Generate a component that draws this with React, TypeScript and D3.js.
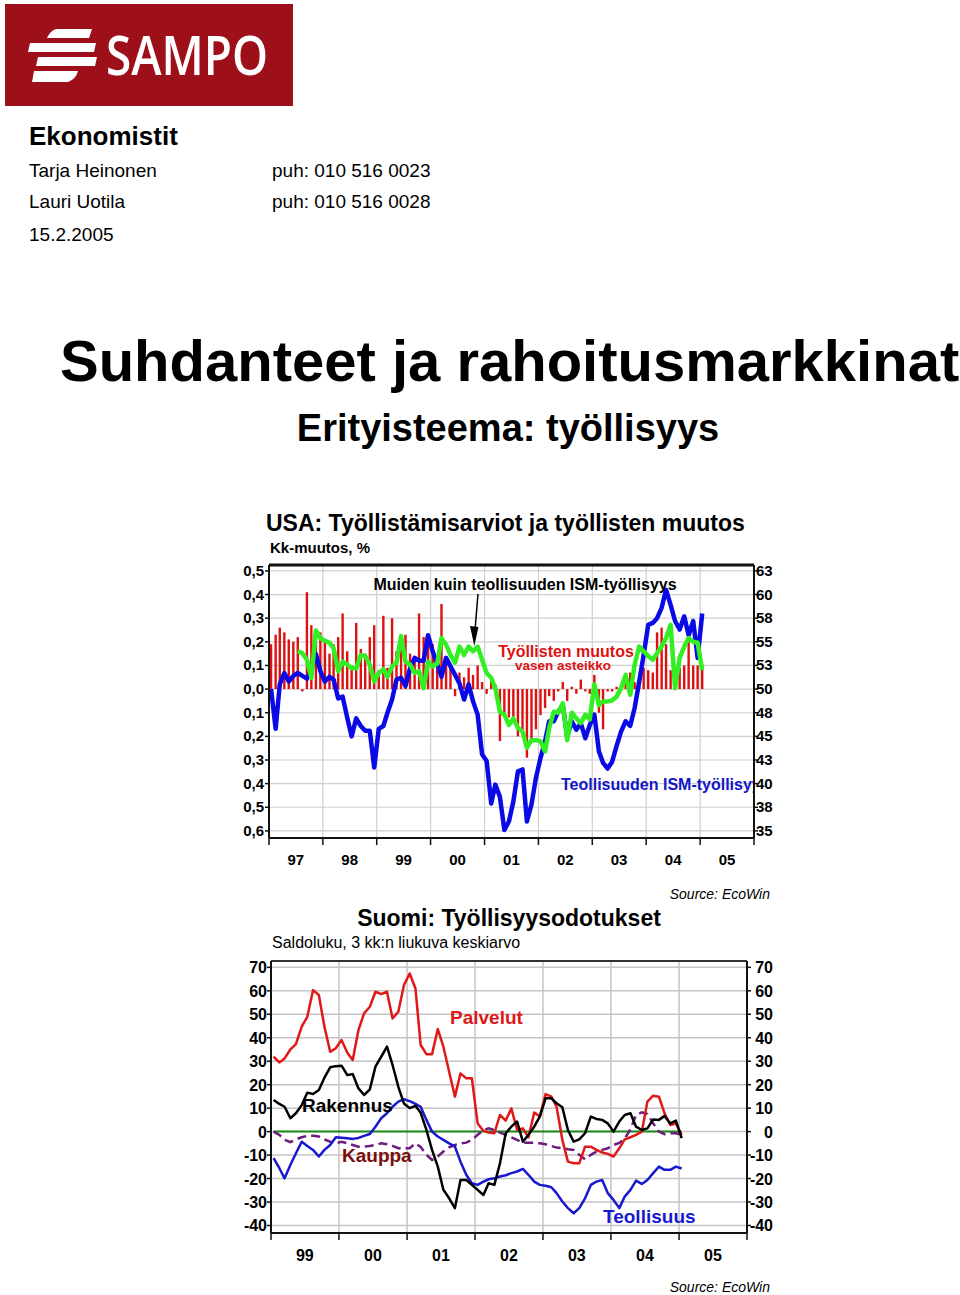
import React from 'react';
import * as d3 from 'd3';

const FONT = "'Liberation Sans', Arial, Helvetica, sans-serif";

// ---------- USA chart data (monthly, from Jan 1997) ----------
const usStartYear = 1997;
// Työllisten muutos, Kk-muutos % (left scale)
const payrollChange = [
  0.19, 0.23, 0.26, 0.24, 0.21, 0.20, 0.22, -0.01, 0.41, 0.27, 0.24, 0.24,
  0.21, 0.15, 0.19, 0.22, 0.32, 0.16, 0.10, 0.28, 0.17, 0.15, 0.22, 0.27,
  0.08, 0.31, 0.09, 0.30, 0.16, 0.22, 0.23, 0.15, 0.14, 0.32, 0.22, 0.22,
  0.19, 0.13, 0.36, 0.14, 0.10, -0.03, 0.07, 0.05, 0.09, 0.06, 0.10, 0.03,
  -0.02, 0.04, 0.02, -0.22, -0.10, -0.12, -0.14, -0.20, -0.18, -0.29, -0.21, -0.17,
  -0.11, -0.08, -0.03, -0.05, -0.01, 0.03, -0.05, 0.01, -0.02, 0.04, -0.01, -0.02,
  0.06, -0.10, -0.17, -0.01, -0.01, 0.01, 0.02, 0.03, 0.07, 0.03, 0.06, 0.09,
  0.08, 0.07, 0.24, 0.26, 0.19, 0.08, 0.08, 0.09, 0.10, 0.24, 0.10, 0.10,
  0.10,
];
// Teollisuuden ISM-työllisyys (right scale)
const ismManufacturing = [
  50.0, 45.8, 50.5, 51.7, 50.8, 51.4, 51.7, 51.4, 51.1, 52.0, 53.7, 51.9,
  50.8, 51.3, 51.0, 49.0, 49.2, 47.0, 45.0, 46.9, 46.1, 45.6, 45.6, 41.7,
  45.8, 46.1, 47.5, 48.9, 51.0, 51.2, 50.3, 52.2, 53.3, 53.0, 53.0, 55.7,
  54.0, 52.7, 51.3, 53.3, 52.4, 51.5, 50.6, 48.9, 50.5, 48.7, 47.3, 43.1,
  42.4, 37.9, 39.9, 38.6, 35.1, 36.0, 38.1, 41.3, 41.5, 36.0, 37.8, 40.6,
  42.7, 44.5, 46.6, 46.6, 47.6, 48.3, 45.0, 46.6, 45.7, 46.4, 44.8, 46.2,
  47.3, 43.4, 42.2, 41.6, 42.3, 44.0, 45.5, 46.6, 46.1, 48.0, 50.8, 53.6,
  56.8, 57.0, 57.5, 58.6, 60.5, 58.9, 57.2, 56.3, 57.7, 55.7, 57.2, 53.3,
  58.0,
];
// Muiden kuin teollisuuden ISM-työllisyys (right scale), from Jul 1997
const ismNonManufStartMonth = 6;
const ismNonManufacturing = [
  54.0, 53.8, 53.1, 51.2, 56.2, 55.4,
  55.1, 54.9, 54.3, 51.9, 52.9, 52.6, 52.2, 52.2, 53.6, 53.5, 52.6, 50.8,
  51.7, 52.1, 51.3, 52.4, 52.8, 55.6, 52.9, 52.6, 51.7, 51.9, 50.1, 52.9,
  52.4, 52.7, 55.4, 54.7, 53.6, 52.8, 54.5, 53.6, 54.5, 54.0, 54.5, 53.1,
  51.7, 51.2, 50.1, 47.6, 47.3, 46.2, 46.9, 45.9, 45.5, 43.8, 44.6, 44.6,
  44.5, 43.4, 45.9, 47.6, 47.5, 48.5, 44.6, 47.5, 46.9, 46.4, 47.3, 46.8,
  50.5, 48.3, 48.7, 48.7, 48.8, 49.2, 50.1, 51.5, 49.4, 52.6, 54.5, 54.0,
  53.5, 53.1, 53.8, 54.5, 55.4, 56.8, 50.1, 53.3, 54.5, 55.4, 55.0, 54.9,
  52.0,
];
const usLeftTicks = [0.5, 0.4, 0.3, 0.2, 0.1, 0.0, -0.1, -0.2, -0.3, -0.4, -0.5, -0.6];
const usRightTicks = [62.5, 60, 57.5, 55, 52.5, 50, 47.5, 45, 42.5, 40, 37.5, 35];
const usYearLabels = ['97', '98', '99', '00', '01', '02', '03', '04', '05'];

// ---------- Finland chart data (monthly, from Jan 1999) ----------
const fiStartYear = 1999;
const palvelut = [
  31.9, 29.5, 31.2, 35.0, 37.3, 44.7, 48.9, 60.3, 58.2, 44.7, 34.0, 35.5,
  39.0, 33.6, 30.5, 43.3, 50.4, 53.2, 59.6, 58.6, 59.6, 48.2, 51.1, 62.4,
  67.4, 61.0, 36.9, 33.0, 33.0, 43.7, 36.2, 25.5, 14.9, 24.8, 22.7, 22.7,
  3.5, 0.4, -0.4, -0.7, 7.1, 4.7, 9.9, 0.7, 1.4, -2.4, 8.1, 6.4,
  16.0, 14.9, 10.6, -3.5, -12.8, -13.5, -13.5, -6.4, -6.4, -7.8, -8.9, -9.5,
  -10.6, -7.1, -3.3, -2.4, -1.4, 0.0, 12.8, 15.3, 14.9, 7.8, 2.8, 3.5,
  -1.4,
];
const rakennus = [
  13.5, 11.8, 10.6, 5.7, 7.8, 11.3, 16.6, 16.0, 17.7, 23.0, 27.4, 27.9,
  28.1, 24.1, 24.5, 18.4, 15.6, 18.0, 27.7, 31.9, 36.2, 28.4, 19.1, 12.0,
  10.0, 11.0, 8.0, 0.7, -7.8, -14.9, -24.8, -28.4, -32.6, -20.6, -20.6, -22.7,
  -24.8, -27.0, -22.0, -22.7, -13.5, -0.7, 2.1, 4.3, -4.3, -1.4, 2.1, 6.4,
  14.2, 14.2, 12.1, 10.4, 0.7, -4.3, -3.3, -0.7, 6.4, 5.4, 5.0, 3.5,
  0.0, 4.3, 7.1, 7.8, 2.1, 0.7, 1.4, 5.2, 5.0, 6.7, 3.5, 4.7,
  -2.8,
];
const teollisuus = [
  -11.3, -15.6, -19.9, -14.2, -9.2, -4.3, -6.1, -7.8, -10.6, -7.8, -5.7, -2.4,
  -2.6, -2.8, -3.1, -2.7, -1.8, -1.0, 2.1, 5.7, 7.8, 10.6, 12.8, 13.8,
  13.0, 11.8, 10.6, 5.0, 0.0, -2.1, -3.5, -5.0, -6.4, -12.8, -18.4, -22.0,
  -22.7, -21.3, -20.3, -19.9, -19.1, -18.6, -17.7, -17.0, -15.9, -18.4, -21.3, -22.7,
  -23.1, -23.7, -26.2, -29.8, -32.6, -34.8, -32.6, -28.4, -22.7, -21.3, -20.6, -26.2,
  -29.1, -32.6, -27.7, -24.8, -20.9, -22.3, -20.6, -17.7, -14.9, -16.3, -16.3, -14.9,
  -15.7,
];
const kauppa = [
  0.0, -1.4, -3.5, -4.5, -3.3, -2.4, -1.8, -1.8, -2.1, -3.3, -4.3, -5.0,
  -4.3, -5.0, -5.7, -6.4, -6.4, -6.1, -5.7, -5.0, -5.4, -6.1, -7.1, -7.1,
  -7.1, -5.0, -6.5, -9.9, -12.1, -10.6, -8.5, -6.7, -5.7, -5.0, -4.7, -3.5,
  -1.4, 0.7, 1.4, 0.7, -0.4, -1.4, -2.4, -3.5, -4.7, -4.7, -4.7, -5.0,
  -5.4, -6.1, -6.8, -7.1, -7.5, -7.8, -9.9, -11.8, -9.9, -8.5, -7.8, -7.1,
  -5.7, -4.8, -3.0, 1.0, 7.1, 8.2, 7.5, 3.5, 0.0, -1.1, -0.7, -0.7,
  -1.4,
];
const fiTicks = [70, 60, 50, 40, 30, 20, 10, 0, -10, -20, -30, -40];
const fiYearLabels = ['99', '00', '01', '02', '03', '04', '05'];

const monthDate = (startYear: number, i: number) => new Date(startYear, i, 15);

function UsChart() {
  const L = 269, R = 754, T = 565, B = 838;
  const x = d3.scaleTime().domain([new Date(1997, 0, 1), new Date(2006, 0, 1)]).range([L, R]);
  const yL = d3.scaleLinear().domain([-0.63, 0.525]).range([B, T]);
  const yR = d3.scaleLinear().domain([50 - 0.63 * 25, 50 + 0.525 * 25]).range([B, T]);
  const years = d3.range(1997, 2007);
  const lineR = d3.line<number>()
    .x((_, i) => x(monthDate(usStartYear, i)))
    .y((d) => yR(d));
  const lineG = d3.line<number>()
    .x((_, i) => x(monthDate(usStartYear, i + ismNonManufStartMonth)))
    .y((d) => yR(d));
  return (
    <g fontFamily={FONT}>
      <defs>
        <clipPath id="usclip"><rect x={L} y={T} width={R - L} height={B - T} /></clipPath>
      </defs>
      <text x={266} y={531} fontSize={23} fontWeight="bold">USA: Työllistämisarviot ja työllisten muutos</text>
      <text x={270} y={553} fontSize={15} fontWeight="bold">Kk-muutos, %</text>
      {/* grid */}
      {usLeftTicks.map((t) => (
        <line key={'h' + t} x1={L} x2={R} y1={yL(t)} y2={yL(t)} stroke="#cfcfcf" strokeWidth={1.2} />
      ))}
      {years.slice(1, -1).map((yr) => (
        <line key={'v' + yr} x1={x(new Date(yr, 0, 1))} x2={x(new Date(yr, 0, 1))} y1={T} y2={B} stroke="#cfcfcf" strokeWidth={1.2} />
      ))}
      {/* bars */}
      {payrollChange.map((v, i) => {
        const cx = x(monthDate(usStartYear, i));
        const y0 = yL(0), y1 = yL(v);
        return <rect key={'b' + i} x={cx - 1.2} width={2.4} y={Math.min(y0, y1)} height={Math.max(Math.abs(y1 - y0), 1)} fill="#dd1111" />;
      })}
      <path d={lineR(ismManufacturing) || ''} fill="none" stroke="#0a0ae6" strokeWidth={4.5} strokeLinejoin="round" />
      <path d={lineG(ismNonManufacturing) || ''} fill="none" stroke="#33ee22" strokeWidth={4.5} strokeLinejoin="round" />
      {/* annotations */}
      <text x={525} y={590} fontSize={16} fontWeight="bold" textAnchor="middle">Muiden kuin teollisuuden ISM-työllisyys</text>
      <line x1={478} y1={594} x2={474.5} y2={636} stroke="#000" strokeWidth={1.5} />
      <path d="M470 626 L474.3 646 L478.5 627 Z" fill="#000" />
      <text x={566} y={657} fontSize={16} fontWeight="bold" textAnchor="middle" fill="#dd1111">Työllisten muutos</text>
      <text x={563} y={670} fontSize={13.5} fontWeight="bold" textAnchor="middle" fill="#dd1111">vasen asteikko</text>
      <g clipPath="url(#usclip)">
        <text x={561} y={790} fontSize={16} fontWeight="bold" fill="#1414c8">Teollisuuden ISM-työllisyys</text>
      </g>
      {/* frame */}
      <line x1={L} x2={R} y1={T} y2={T} stroke="#111" strokeWidth={3} />
      <line x1={L} x2={L} y1={T} y2={B} stroke="#111" strokeWidth={2} />
      <line x1={R} x2={R} y1={T} y2={B} stroke="#111" strokeWidth={2} />
      <line x1={L} x2={R} y1={B} y2={B} stroke="#111" strokeWidth={2} />
      {/* left axis */}
      {usLeftTicks.map((t) => (
        <g key={'lt' + t}>
          <line x1={L - 4} x2={L} y1={yL(t)} y2={yL(t)} stroke="#111" strokeWidth={1.5} />
          <text x={L - 5} y={yL(t) + 5} fontSize={15} fontWeight="bold" textAnchor="end">
            {Math.abs(t).toFixed(1).replace('.', ',')}
          </text>
        </g>
      ))}
      {/* right axis */}
      {usRightTicks.map((t) => (
        <g key={'rt' + t}>
          <line x1={R} x2={R + 4} y1={yR(t)} y2={yR(t)} stroke="#111" strokeWidth={1.5} />
          <text x={R + 2} y={yR(t) + 5} fontSize={15} fontWeight="bold">{String(Math.round(t))}</text>
        </g>
      ))}
      {/* x axis */}
      {years.map((yr) => (
        <line key={'xt' + yr} x1={x(new Date(yr, 0, 1))} x2={x(new Date(yr, 0, 1))} y1={B} y2={B + 7} stroke="#111" strokeWidth={1.5} />
      ))}
      {usYearLabels.map((lab, i) => (
        <text key={'xl' + lab} x={x(new Date(1997 + i, 6, 2))} y={865} fontSize={15} fontWeight="bold" textAnchor="middle">{lab}</text>
      ))}
      <text x={770} y={899} fontSize={14} fontStyle="italic" textAnchor="end">Source: EcoWin</text>
    </g>
  );
}

function FiChart() {
  const L = 271, R = 747, T = 961, B = 1233;
  const x = d3.scaleTime().domain([new Date(1999, 0, 1), new Date(2006, 0, 1)]).range([L, R]);
  const y = d3.scaleLinear().domain([-43.2, 72.7]).range([B, T]);
  const years = d3.range(1999, 2007);
  const line = d3.line<number>()
    .x((_, i) => x(monthDate(fiStartYear, i)))
    .y((d) => y(d));
  const zeros = palvelut.map(() => 0);
  return (
    <g fontFamily={FONT}>
      <text x={509} y={926} fontSize={23} fontWeight="bold" textAnchor="middle">Suomi: Työllisyysodotukset</text>
      <text x={272} y={948} fontSize={16}>Saldoluku, 3 kk:n liukuva keskiarvo</text>
      {fiTicks.map((t) => (
        <line key={'h' + t} x1={L} x2={R} y1={y(t)} y2={y(t)} stroke="#c4c4c4" strokeWidth={1.5} />
      ))}
      {years.slice(1, -1).map((yr) => (
        <line key={'v' + yr} x1={x(new Date(yr, 0, 1))} x2={x(new Date(yr, 0, 1))} y1={T} y2={B} stroke="#c4c4c4" strokeWidth={1.5} />
      ))}
      <path d={line(zeros) || ''} fill="none" stroke="#1a8a1a" strokeWidth={2} />
      <path d={line(kauppa) || ''} fill="none" stroke="#6e1a7e" strokeWidth={2.5} strokeDasharray="9,5" />
      <path d={line(palvelut) || ''} fill="none" stroke="#e01818" strokeWidth={2.5} strokeLinejoin="round" />
      <path d={line(teollisuus) || ''} fill="none" stroke="#1818d0" strokeWidth={2.5} strokeLinejoin="round" />
      <path d={line(rakennus) || ''} fill="none" stroke="#000" strokeWidth={2.5} strokeLinejoin="round" />
      <text x={450} y={1024} fontSize={19} fontWeight="bold" fill="#dd1818">Palvelut</text>
      <text x={302} y={1112} fontSize={19} fontWeight="bold" fill="#000">Rakennus</text>
      <text x={342} y={1162} fontSize={19} fontWeight="bold" fill="#7a0c0c">Kauppa</text>
      <text x={603} y={1223} fontSize={19} fontWeight="bold" fill="#1818d0">Teollisuus</text>
      {/* frame */}
      <line x1={L} x2={R} y1={T} y2={T} stroke="#333" strokeWidth={2} />
      <line x1={L} x2={L} y1={T} y2={B} stroke="#111" strokeWidth={2} />
      <line x1={R} x2={R} y1={T} y2={B} stroke="#111" strokeWidth={2} />
      <line x1={L} x2={R} y1={B} y2={B} stroke="#111" strokeWidth={2} />
      {fiTicks.map((t) => (
        <g key={'t' + t}>
          <line x1={L - 4} x2={L} y1={y(t)} y2={y(t)} stroke="#111" strokeWidth={1.5} />
          <line x1={R} x2={R + 4} y1={y(t)} y2={y(t)} stroke="#111" strokeWidth={1.5} />
          <text x={267} y={y(t) + 6} fontSize={16} fontWeight="bold" textAnchor="end">{String(t)}</text>
          <text x={773} y={y(t) + 6} fontSize={16} fontWeight="bold" textAnchor="end">{String(t)}</text>
        </g>
      ))}
      {years.map((yr) => (
        <line key={'xt' + yr} x1={x(new Date(yr, 0, 1))} x2={x(new Date(yr, 0, 1))} y1={B} y2={B + 7} stroke="#111" strokeWidth={1.5} />
      ))}
      {fiYearLabels.map((lab, i) => (
        <text key={'xl' + lab} x={x(new Date(1999 + i, 6, 2))} y={1261} fontSize={16} fontWeight="bold" textAnchor="middle">{lab}</text>
      ))}
      <text x={770} y={1292} fontSize={14} fontStyle="italic" textAnchor="end">Source: EcoWin</text>
    </g>
  );
}

function Header() {
  return (
    <g fontFamily={FONT}>
      <rect x={5} y={4} width={288} height={102} fill="#9e1019" />
      <g fill="#ffffff">
        <path d="M56 29 L92 29 L89 38 L47 38 Q50 31 56 29 Z" />
        <path d="M30 43 L96 43 L94 52 L28 52 Z" />
        <path d="M38 57 L97 57 L95 66 L36 66 Z" />
        <path d="M34 71 L78 71 Q76 79 68 82 L32 82 Z" />
      </g>
      <text x={106} y={75} fontSize={55} fontWeight={600} fill="#ffffff" textLength={162} lengthAdjust="spacingAndGlyphs" fontFamily="'Open Sans', 'Liberation Sans', sans-serif">SAMPO</text>
      <text x={29} y={145} fontSize={26} fontWeight="bold">Ekonomistit</text>
      <text x={29} y={177} fontSize={19}>Tarja Heinonen</text>
      <text x={272} y={177} fontSize={19}>puh: 010 516 0023</text>
      <text x={29} y={208} fontSize={19}>Lauri Uotila</text>
      <text x={272} y={208} fontSize={19}>puh: 010 516 0028</text>
      <text x={29} y={241} fontSize={19}>15.2.2005</text>
      <text x={60} y={381} fontSize={58} fontWeight="bold">Suhdanteet ja rahoitusmarkkinat</text>
      <text x={508} y={441} fontSize={38} fontWeight="bold" textAnchor="middle">Erityisteema: työllisyys</text>
    </g>
  );
}

export default function App() {
  return (
    <div style={{ position: 'absolute', left: 0, top: 0 }}>
      <svg width={960} height={1295} viewBox="0 0 960 1295" style={{ display: 'block', background: '#fff' }}>
        <rect x={0} y={0} width={960} height={1295} fill="#fff" />
        <Header />
        <UsChart />
        <FiChart />
      </svg>
    </div>
  );
}
